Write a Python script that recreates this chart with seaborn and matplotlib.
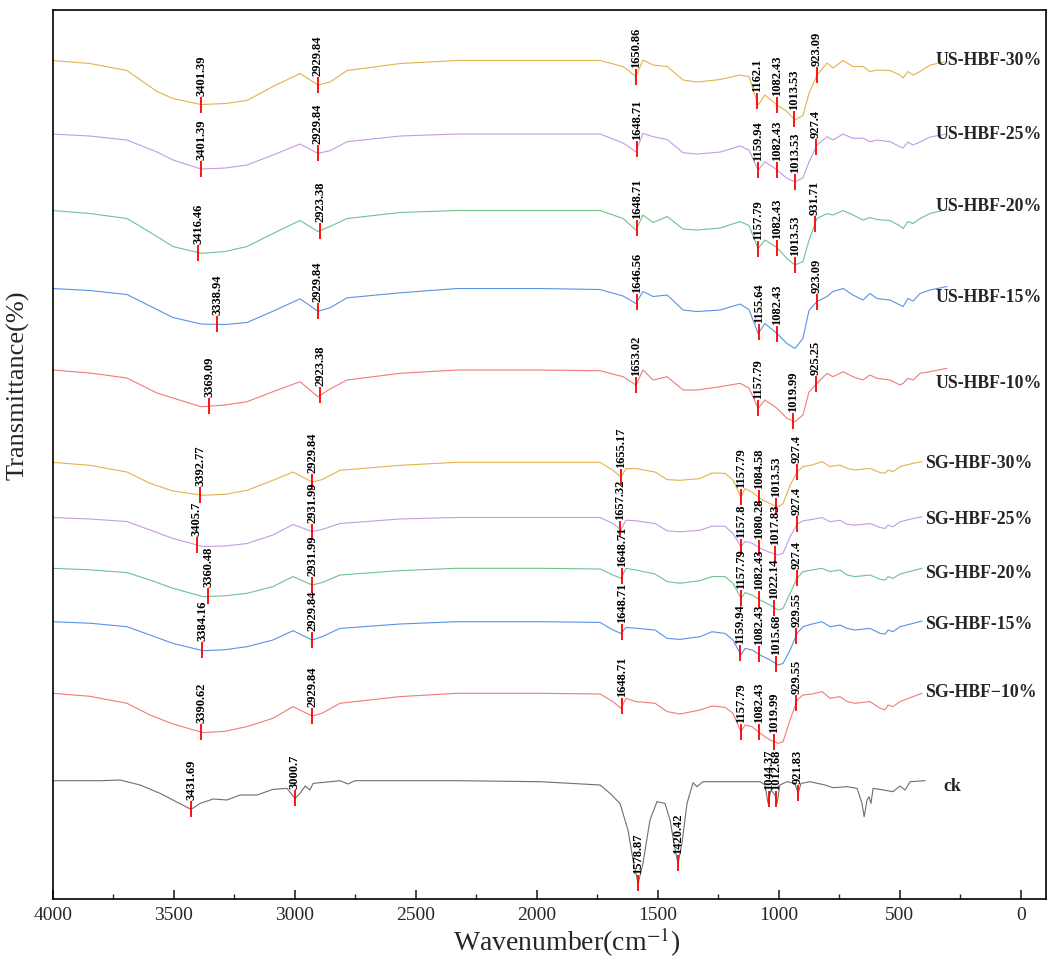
import numpy as np
import pandas as pd
import matplotlib
matplotlib.use("Agg")
import matplotlib.pyplot as plt
from matplotlib.ticker import MultipleLocator
import seaborn as sns


# wavenumber grids (cm-1) the spectra were read at
US_WN = [4000, 3846, 3693, 3569, 3503, 3387, 3288, 3197, 3090, 2978, 2904, 2854, 2784, 2565, 2329,
         1986, 1738, 1643, 1590, 1561, 1519, 1461, 1395, 1338, 1242, 1160, 1123, 1085, 1057, 1007,
         966, 933, 900, 875, 842, 800, 776, 734, 693, 652, 623, 594, 540, 499, 486, 466, 445, 416,
         375, 305]
SG_WN = [4000, 3846, 3693, 3598, 3503, 3379, 3288, 3197, 3090, 3007, 2928, 2887, 2813, 2565, 2329,
         1986, 1738, 1685, 1652, 1631, 1590, 1511, 1461, 1408, 1325, 1276, 1222, 1189, 1156, 1139,
         1110, 1077, 1036, 1003, 982, 953, 924, 900, 862, 821, 788, 747, 718, 685, 623, 581, 561,
         548, 528, 499, 445, 408]
CK_WN = [4000, 3804, 3722, 3639, 3556, 3428, 3391, 3337, 3280, 3226, 3156, 3090, 3032, 2999, 2978,
         2957, 2937, 2924, 2813, 2780, 2751, 2329, 1986, 1738, 1697, 1656, 1623, 1602, 1581, 1561,
         1532, 1503, 1470, 1449, 1428, 1416, 1400, 1379, 1354, 1338, 1313, 1077, 1057, 1044, 1032,
         1015, 1007, 995, 966, 933, 920, 908, 871, 809, 776, 718, 676, 656, 647, 635, 627, 619, 610,
         581, 528, 499, 478, 457, 395]

# relative transmittance (0 = own baseline)
us_30 = [0, -3, -10, -31, -38, -44, -43, -40, -26, -13, -24.5, -21.5, -10, -3, 0, 0, 0, -6, -16, 0.5,
         -4.5, -6, -19.5, -21.5, -19, -14.5, -16, -44.5, -34.5, -44.5, -51, -59.5, -55, -33, -14.5,
         -2.5, -7.5, 0, -6, -6, -11, -9.5, -10, -14.5, -17.5, -11, -14.5, -11, -4.5, -1]
us_25 = [0, -2, -6, -18, -26, -35, -34, -31, -21, -10, -19.3, -16.7, -7.7, -2, 0, 0, 0, -9, -17.7, 0.7,
         -2.7, -5.5, -18.7, -20, -18, -12, -16, -36, -27.7, -36, -44.3, -47.7, -44, -28, -11,
         -2.7, -6, 0, -4.3, -4, -7.7, -6, -7.7, -12.7, -14, -8, -11, -8, -3, 0]
us_20 = [0, -3, -8, -26, -36, -42.8, -41, -36, -23, -10, -21, -16, -8, -2, 0, 0, 0, -8, -19.5, -4.5,
         -12, -6, -18.5, -19.5, -17.5, -11, -15, -38, -29.5, -37, -48, -54.5, -51, -30, -8,
         -3, -4.5, 0, -4.5, -9.5, -7, -9, -10, -15.5, -18, -11, -13, -8, -3, 1]
us_15 = [0, -2, -6, -21, -29, -35.5, -36, -34, -22.7, -10.3, -22.7, -19.3, -9.3, -4.3, 0, 0, -1, -7.5,
         -15, -3, -8, -6.5, -21.5, -23, -21.5, -15.5, -21, -45, -35, -45, -55, -60, -50, -22, -13,
         -8, -3, 0, -6.5, -11.5, -5, -10, -11.5, -16.5, -18, -10, -12.5, -5, -1.5, 2]
us_10 = [0, -3, -8, -23, -28, -36.7, -35, -31.7, -21.7, -11.7, -26.7, -19, -10, -3.3, 0, 0, -0.7, -6.7,
         -15, 0, -10, -6.7, -20, -20, -16.7, -13.3, -18, -38.3, -30, -38.3, -48.3, -51.7, -45, -22,
         -13.3, -3.3, -6.7, -1.7, -6.7, -10, -5, -8.3, -10, -15, -13.3, -8.3, -10, -3.3, -1.7, 1.7]
sg_30 = [0, -3, -9.7, -21, -28.7, -33, -32, -28, -18, -9.7, -19.7, -17.3, -8, -3, 0, 0, 0, -8, -14.7,
         -6.3, -6.3, -9.7, -17.3, -18, -16.3, -10.7, -11, -17.7, -34.7, -26.3, -29.7, -36.3, -41.3,
         -44.7, -41.3, -23, -9.7, -4.3, -2.7, 0.7, -4.3, -2.7, -6, -7.7, -6, -10.3, -11, -7.7, -9.3,
         -4.3, -1, 0.7]
sg_25 = [0, -1.5, -4, -12.5, -21, -29, -28.5, -26, -17.5, -7, -14, -12, -6, -1.5, 0, 0, 0, -6, -12,
         -2.7, -3.3, -6, -13.3, -14.3, -12.7, -8.7, -8.7, -16, -29.3, -24, -25.7, -30.7, -35, -37.5,
         -35.7, -19.3, -6.7, -3.3, -2, 0, -4.3, -2.7, -6.7, -7.7, -6, -10, -11, -7.7, -9.3, -4.3,
         -1, 0.7]
sg_20 = [0, -1.5, -4.3, -11.7, -20, -28.3, -27.5, -25, -18.3, -8.3, -16.7, -14.3, -6.7, -2.3, 0, 0,
         -0.7, -6.7, -10, 0, -1.7, -5.7, -13.3, -15, -12.3, -8.3, -8.3, -15, -30, -24.3, -26.7,
         -31.7, -36.7, -41.7, -40, -25, -10, -3.3, -1.7, 0, -3.3, -1.7, -6.7, -8.3, -6.7, -11,
         -11.7, -8.3, -10, -5.7, -2.3, 0]
sg_15 = [0, -1.5, -5, -13.3, -21.7, -29, -28, -25, -18.3, -9, -18.3, -15, -6.7, -2.3, 0, 0, -0.7,
         -8.3, -11.7, -5.7, -6.5, -8.3, -16.7, -17.7, -15, -10, -11.7, -18.3, -33.3, -26.7, -28.3,
         -33.3, -38.3, -43.3, -41.7, -28.3, -11.7, -5, -2.3, 0, -5, -3.3, -6.7, -8.3, -6.7, -11.7,
         -12.3, -8.3, -10, -5, -1.7, 0.7]
sg_10 = [0, -3, -10, -21.7, -30.7, -39.3, -38, -33.3, -25, -13.3, -22.7, -20, -10, -3.3, 0, 0, -0.7,
         -8.3, -15, -5, -8.3, -10, -18.3, -20.7, -16.7, -12.7, -14, -20, -38.3, -31.7, -33.3, -40,
         -46.7, -50, -48.3, -26.7, -6.7, -1.7, -0.7, 1.7, -5, -3.3, -8.3, -10, -8.3, -15, -16.7,
         -11.7, -13.3, -8.3, -3.3, 0]
ck = [0, 0, 0.7, -4.3, -12.7, -28.7, -22.7, -18.3, -19.3, -14.3, -14.3, -8.7, -7.7, -17.7, -12.7,
      -5.3, -9.3, -2.7, 0, -3.3, 0, 0, -1, -4.3, -12.7, -22.7, -49.3, -79.3, -102.7, -82.7, -39.3,
      -21, -22.7, -39.3, -69.3, -82.7, -62.7, -22.7, -2, -6, -1, -1, -4.3, -22.7, -9.3, -14.3,
      -22.7, -4.3, -1, -2.7, -12.7, -2.7, -1, -4.3, -7, -6, -7.7, -22.7, -36, -19.3, -16, -22.7,
      -7.7, -8.7, -11, -5.3, -9.3, -1, 0]

SAMPLES = ["US-HBF-30%", "US-HBF-25%", "US-HBF-20%", "US-HBF-15%", "US-HBF-10%",
           "SG-HBF-30%", "SG-HBF-25%", "SG-HBF-20%", "SG-HBF-15%", "SG-HBF\u221210%", "ck"]
OFFSETS = [838.5, 765, 688.5, 610.5, 529, 436.7, 381.5, 330.7, 277.3, 205.7, 118.3]

# marked peaks: where the marker sits on the curve, and the printed value
us_30_peaks = [3387, 2904, 1590, 1090, 1007, 937, 842]
us_30_labels = ["3401.39", "2929.84", "1650.86", "1162.1", "1082.43", "1013.53", "923.09"]
us_25_peaks = [3387, 2904, 1586, 1085, 1007, 933, 846]
us_25_labels = ["3401.39", "2929.84", "1648.71", "1159.94", "1082.43", "1013.53", "927.4"]
us_20_peaks = [3399, 2895, 1586, 1085, 1007, 933, 850]
us_20_labels = ["3416.46", "2923.38", "1648.71", "1157.79", "1082.43", "1013.53", "931.71"]
us_15_peaks = [3321, 2904, 1586, 1081, 1007, 842]
us_15_labels = ["3338.94", "2929.84", "1646.56", "1155.64", "1082.43", "923.09"]
us_10_peaks = [3354, 2895, 1590, 1085, 941, 846]
us_10_labels = ["3369.09", "2923.38", "1653.02", "1157.79", "1019.99", "925.25"]
sg_30_peaks = [3391, 2928, 1652, 1156, 1081, 1011, 924]
sg_30_labels = ["3392.77", "2929.84", "1655.17", "1157.79", "1084.58", "1013.53", "927.4"]
sg_25_peaks = [3404, 2928, 1656, 1156, 1081, 1015, 924]
sg_25_labels = ["3405.7", "2931.99", "1657.32", "1157.8", "1080.28", "1017.83", "927.4"]
sg_20_peaks = [3358, 2928, 1647, 1156, 1081, 1019, 924]
sg_20_labels = ["3360.48", "2931.99", "1648.71", "1157.79", "1082.43", "1022.14", "927.4"]
sg_15_peaks = [3383, 2928, 1647, 1160, 1081, 1011, 928]
sg_15_labels = ["3384.16", "2929.84", "1648.71", "1159.94", "1082.43", "1015.68", "929.55"]
sg_10_peaks = [3387, 2928, 1647, 1156, 1081, 1019, 928]
sg_10_labels = ["3390.62", "2929.84", "1648.71", "1157.79", "1082.43", "1019.99", "929.55"]
ck_peaks = [3428, 2999, 1581, 1416, 1040, 1011, 920]
ck_labels = ["3431.69", "3000.7", "1578.87", "1420.42", "1044.37", "1012.68", "921.83"]

COLORS = ["#E2B24E", "#C49BE6", "#6EC28F", "#5A92E6", "#F27A7A"] * 2 + ["#6E6E6E"]
NAME_X = [354] * 5 + [395] * 5 + [321]
NAME_Y = [839, 765, 693, 602, 516, 436, 380, 326, 275, 207, 112]


def main():
    curves = [us_30, us_25, us_20, us_15, us_10, sg_30, sg_25, sg_20, sg_15, sg_10, ck]
    grids = [US_WN] * 5 + [SG_WN] * 5 + [CK_WN]
    peaks = [us_30_peaks, us_25_peaks, us_20_peaks, us_15_peaks, us_10_peaks,
             sg_30_peaks, sg_25_peaks, sg_20_peaks, sg_15_peaks, sg_10_peaks, ck_peaks]
    labels = [us_30_labels, us_25_labels, us_20_labels, us_15_labels, us_10_labels,
              sg_30_labels, sg_25_labels, sg_20_labels, sg_15_labels, sg_10_labels, ck_labels]

    frames = []
    for name, wn, rel, off in zip(SAMPLES, grids, curves, OFFSETS):
        frames.append(pd.DataFrame({"wn": wn, "t": np.asarray(rel) + off, "sample": name}))
    df = pd.concat(frames, ignore_index=True)

    sns.set_theme(style="white")
    plt.rcParams["font.family"] = ["Liberation Serif", "DejaVu Serif"]
    plt.rcParams["mathtext.fontset"] = "stix"

    fig = plt.figure(figsize=(10.55, 9.65), dpi=100)
    ax = fig.add_axes([0.04995, 0.0684, 0.9412, 0.9212])

    sns.lineplot(
        data=df, x="wn", y="t", hue="sample", hue_order=SAMPLES,
        palette=dict(zip(SAMPLES, COLORS)), estimator=None, legend=False,
        linewidth=0.8, ax=ax,
    )

    for name, wn, rel, off, pk, lb in zip(SAMPLES, grids, curves, OFFSETS, peaks, labels):
        y_curve = np.interp(pk, wn[::-1], (np.asarray(rel) + off)[::-1])
        ax.vlines(pk, y_curve - 8, y_curve + 8, color="red", linewidth=1.3, zorder=4)
        for x, y, txt in zip(pk, y_curve, lb):
            ax.text(x, y + 9, txt, rotation=90, ha="center", va="bottom",
                    fontsize=9, fontweight="bold", color="black", zorder=5)

    for name, x, y in zip(SAMPLES, NAME_X, NAME_Y):
        ax.text(x, y, name, ha="left", va="center", fontsize=12.8, fontweight="bold")

    ax.set_xlim(4000, -103)
    ax.set_ylim(0, 889)
    ax.xaxis.set_major_locator(MultipleLocator(500))
    ax.xaxis.set_minor_locator(MultipleLocator(250))
    ax.set_yticks([])
    ax.tick_params(axis="x", which="major", direction="in", length=6.5, width=1.2,
                   labelsize=14, pad=6, bottom=True)
    ax.tick_params(axis="x", which="minor", direction="in", length=3.3, width=1.0, bottom=True)
    for side in ax.spines.values():
        side.set_linewidth(1.2)
        side.set_color("black")

    ax.set_xlabel("Wavenumber(cm$^{-1}$)", fontsize=20)
    ax.set_ylabel("Transmittance(%)", fontsize=19)
    ax.xaxis.set_label_coords(0.518, -0.03)
    ax.yaxis.set_label_coords(-0.023, 0.578)

    fig.savefig("out.png", dpi=100)
    plt.close(fig)


if __name__ == "__main__":
    main()
